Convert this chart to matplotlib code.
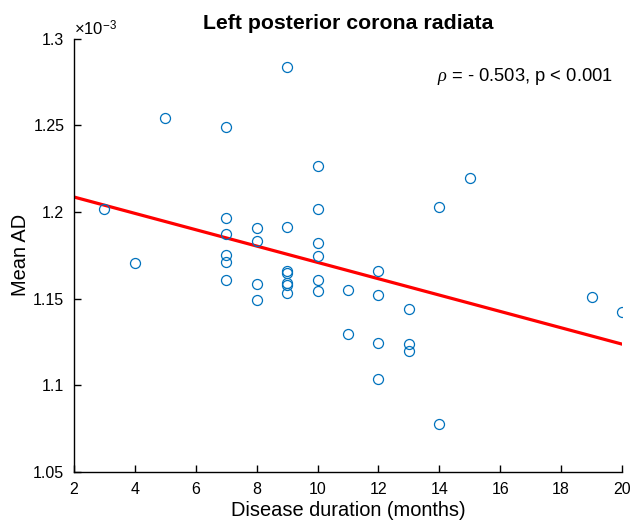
import numpy as np
import matplotlib
matplotlib.use("Agg")
import matplotlib.pyplot as plt
from matplotlib.ticker import FuncFormatter

plt.rcParams['font.family'] = ['Liberation Sans', 'DejaVu Sans']
plt.rcParams['mathtext.fontset'] = 'custom'
plt.rcParams['mathtext.rm'] = 'Liberation Sans'
plt.rcParams['mathtext.it'] = 'Liberation Serif:italic'

# Disease duration (months)
duration = [3, 4, 5,
            7, 7, 7, 7, 7, 7,
            8, 8, 8, 8,
            9, 9, 9, 9, 9, 9, 9,
            10, 10, 10, 10, 10, 10,
            11, 11,
            12, 12, 12, 12,
            13, 13, 13,
            14, 14,
            15, 19, 20]
# Mean AD (x 10^-3)
mean_ad = [1.2016, 1.1703, 1.2541,
           1.2491, 1.1963, 1.1873, 1.1752, 1.1711, 1.1610,
           1.1907, 1.1830, 1.1582, 1.1492,
           1.2836, 1.1913, 1.1660, 1.1650, 1.1593, 1.1581, 1.1531,
           1.2267, 1.2018, 1.1824, 1.1745, 1.1608, 1.1543,
           1.1550, 1.1299,
           1.1660, 1.1523, 1.1247, 1.1039,
           1.1442, 1.1236, 1.1197,
           1.2031, 1.0779,
           1.2198, 1.1511, 1.1422]

title = "Left posterior corona radiata"
xlabel = "Disease duration (months)"
ylabel = "Mean AD"
annot = r"$\it{\rho}$ = - 0.503, p < 0.001"
xticks = [2, 4, 6, 8, 10, 12, 14, 16, 18, 20]
yticks = [1.05, 1.1, 1.15, 1.2, 1.25, 1.3]

fig = plt.figure(figsize=(6.34, 5.22), dpi=100)
ax = fig.add_axes([74/634, 1-472/522, (622-74)/634, (472-38.7)/522])

x = np.array(duration, dtype=float)
y = np.array(mean_ad)
ax.plot(x, y, 'o', markerfacecolor='none', markeredgecolor='#0072BD',
        markersize=7.2, markeredgewidth=0.9, zorder=3)

coef = np.polyfit(x, y, 1)
xl = np.array([2, 20])
ax.plot(xl, np.polyval(coef, xl), color='#FF0000', linewidth=2.3, zorder=2)

ax.set_xlim(2, 20)
ax.set_ylim(1.05, 1.3)
ax.set_xticks(xticks)
ax.set_yticks(yticks)
ax.yaxis.set_major_formatter(FuncFormatter(lambda v, p: f"{v:g}"))
for s in ['top', 'right']:
    ax.spines[s].set_visible(False)
for s in ['left', 'bottom']:
    ax.spines[s].set_linewidth(1.0)
ax.tick_params(direction='in', length=5, width=1.0, labelsize=11.5, pad=7,
               colors='#000000')
ax.set_xlabel(xlabel, fontsize=14.4, labelpad=3)
ax.set_ylabel(ylabel, fontsize=14.4, labelpad=2)
ax.set_title(title, fontsize=15.3, fontweight='bold', pad=7)
ax.text(0.0, 1.0, r"$\times10^{-3}$", transform=ax.transAxes, fontsize=12,
        ha='left', va='bottom')
ax.text(0.983, 0.913, annot, transform=ax.transAxes, fontsize=13.2,
        ha='right', va='center')

fig.savefig("out.png", dpi=100)
